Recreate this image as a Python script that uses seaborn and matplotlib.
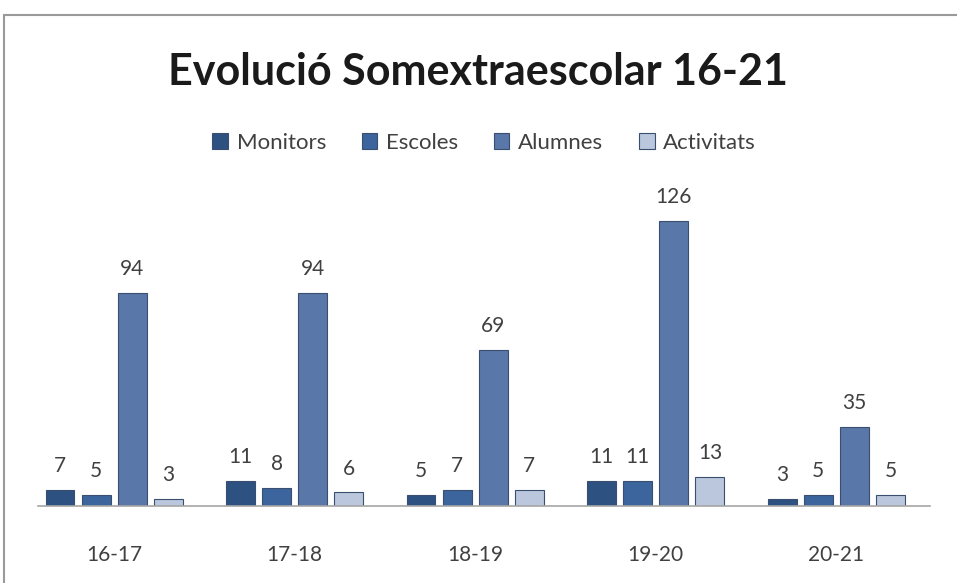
import seaborn as sns
import matplotlib.pyplot as plt
import pandas as pd
from matplotlib.lines import Line2D

# Chart data
cursos = ['16-17', '17-18', '18-19', '19-20', '20-21']
series = ['Monitors', 'Escoles', 'Alumnes', 'Activitats']
monitors = [7, 11, 5, 11, 3]
escoles = [5, 8, 7, 11, 5]
alumnes = [94, 94, 69, 126, 35]
activitats = [3, 6, 7, 13, 5]

df = pd.DataFrame({
    'curs': cursos * 4,
    'serie': [s for s in series for _ in cursos],
    'valor': monitors + escoles + alumnes + activitats,
})

colors = ['#1f4f8f', '#2c62ad', '#4d74b6', '#b4c6e2']

sns.set_style('white')
plt.rcParams['font.family'] = ['Lato', 'DejaVu Sans']

fig = plt.figure(figsize=(9.57, 5.83), dpi=100)
ax = fig.add_axes([0.04, 0.132, 0.932, 0.544])

sns.barplot(data=df, x='curs', y='valor', hue='serie', hue_order=series,
            order=cursos, palette=colors, width=0.8, edgecolor='#3a4f70',
            linewidth=0.8, ax=ax)

# narrower bars with a gap between them
for p in ax.patches:
    w = p.get_width()
    nw = w * 0.8
    p.set_x(p.get_x() + (w - nw) / 2)
    p.set_width(nw)

for cont in ax.containers:
    ax.bar_label(cont, padding=10, fontsize=15, color='#404040')

ax.set_ylim(0, 140)
ax.set_xlim(-0.42, 4.52)
ax.set_xlabel('')
ax.set_ylabel('')
ax.set_yticks([])
ax.tick_params(axis='x', labelsize=15, colors='#404040', length=0, pad=28)
for side in ['top', 'right', 'left']:
    ax.spines[side].set_visible(False)
ax.spines['bottom'].set_color('#a6a6a6')
ax.spines['bottom'].set_linewidth(1.2)

ax.legend(loc='upper center', bbox_to_anchor=(0.5, 1.24), ncol=4, frameon=False,
          fontsize=16, handlelength=0.7, handleheight=0.7, handletextpad=0.4,
          columnspacing=1.6, labelcolor='#404040')

fig.text(0.5, 0.877, 'Evolució Somextraescolar 16-21', ha='center', va='center',
         fontsize=31, fontweight='bold', color='#1a1a1a')

# outer frame of the chart area
fig.add_artist(Line2D([4 / 957, 1], [1 - 15 / 583, 1 - 15 / 583],
                      color='#9a9a9a', linewidth=1.5, transform=fig.transFigure))
fig.add_artist(Line2D([4 / 957, 4 / 957], [0, 1 - 15 / 583],
                      color='#9a9a9a', linewidth=1.5, transform=fig.transFigure))

fig.savefig('out.png', dpi=100)
